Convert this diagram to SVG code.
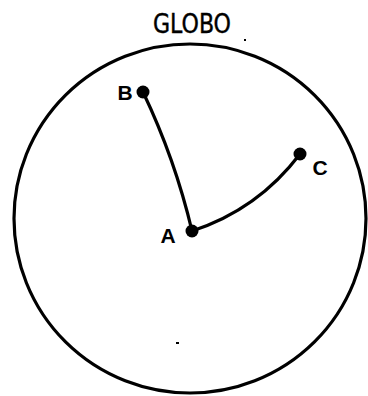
<svg xmlns="http://www.w3.org/2000/svg" width="368" height="396" viewBox="0 0 368 396">
<style>
.lbl{font-family:"Liberation Sans",Arial,sans-serif;font-weight:bold;font-size:21px;fill:#000;text-anchor:middle}
.title{font-family:"DejaVu Sans Condensed","DejaVu Sans","Liberation Sans",sans-serif;font-size:27px;fill:#000;stroke:#000;stroke-width:0.4;text-anchor:middle}
.edge{fill:none;stroke:#000;stroke-width:3.2;stroke-linecap:round}
.dot{fill:#000}
</style>
<rect width="368" height="396" fill="#fff"/>
<g id="globe">
<text class="title" x="192" y="33" textLength="78" lengthAdjust="spacingAndGlyphs">GLOBO</text>
<ellipse cx="190" cy="218.5" rx="176" ry="174.5" fill="none" stroke="#000" stroke-width="3.2"/>
<rect x="244" y="39" width="2" height="2" fill="#000"/>
<rect x="176" y="342" width="3" height="2" fill="#000"/>
</g>
<g id="connectors">
<path class="edge" d="M143,92 Q175,159 192,231"/>
<path class="edge" d="M192,231 Q258,209.5 300,154"/>
</g>
<g id="node-B">
<circle class="dot" cx="143" cy="92" r="6.5"/>
<text class="lbl" x="125" y="100">B</text>
</g>
<g id="node-A">
<circle class="dot" cx="192" cy="231" r="6.5"/>
<text class="lbl" x="168" y="243">A</text>
</g>
<g id="node-C">
<circle class="dot" cx="300" cy="154" r="6.5"/>
<text class="lbl" x="320" y="175">C</text>
</g>
</svg>
